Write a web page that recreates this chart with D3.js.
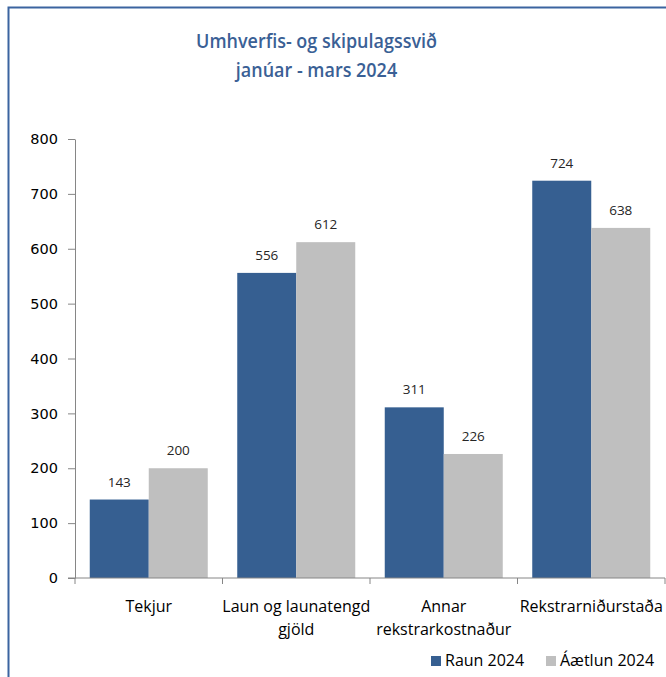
<!DOCTYPE html>
<html>
<head>
<meta charset="utf-8">
<script src="https://cdn.jsdelivr.net/npm/d3@7"></script>
<style>
  html, body { margin: 0; padding: 0; background: #fff; }
  svg { display: block; }
</style>
</head>
<body>
<svg id="chart" width="666" height="677"></svg>
<script>
// Rekstur umhverfis- og skipulagssviðs, raun vs. áætlun (m.kr.)
const categories = [
  ["Tekjur"],
  ["Laun og launatengd", "gjöld"],
  ["Annar", "rekstrarkostnaður"],
  ["Rekstrarniðurstaða"]
];
const seriesNames = ["Raun 2024", "Áætlun 2024"];
const raun2024 = [143, 556, 311, 724];
const aaetlun2024 = [200, 612, 226, 638];
const yTicks = [0, 100, 200, 300, 400, 500, 600, 700, 800];
const titleLines = ["Umhverfis- og skipulagssvið", "janúar - mars 2024"];
const colors = ["#365F91", "#BFBFBF"];

const svg = d3.select("#chart");
const W = 666, H = 677;

svg.append("rect").attr("width", W).attr("height", H).attr("fill", "#fff");

// outer frame
svg.append("rect")
  .attr("x", 8.5).attr("y", 7.5)
  .attr("width", 720).attr("height", 720)
  .attr("fill", "none")
  .attr("stroke", "#3B64A0")
  .attr("stroke-width", 2);

// title: tall, slightly condensed lettering
const titleCx = 316.5;
const titleG = svg.append("g");
const titleTexts = titleG.selectAll("text")
  .data(titleLines)
  .join("text")
  .attr("x", 0)
  .attr("y", (d, i) => 48 + i * 29.5)
  .attr("text-anchor", "middle")
  .attr("font-family", "'Open Sans', sans-serif")
  .attr("font-weight", 600)
  .attr("font-size", 20.5)
  .attr("fill", "#3A6095")
  .text(d => d);
const firstW = titleTexts.node().getComputedTextLength();
const squeeze = firstW > 0 ? 241 / firstW : 1;
titleG.attr("transform", `translate(${titleCx},0) scale(${squeeze},1)`);

const catKeys = categories.map(c => c.join(" "));
const x0 = d3.scaleBand().domain(catKeys).range([75, 665]);
const bw = x0.bandwidth();
const x1 = d3.scaleBand().domain(seriesNames).range([bw * 0.1, bw * 0.9]);
const y = d3.scaleLinear().domain([0, 800]).range([578, 139]);

const rows = catKeys.map((k, i) => ({ key: k, values: [raun2024[i], aaetlun2024[i]] }));

// bars
const groups = svg.append("g").selectAll("g")
  .data(rows)
  .join("g")
  .attr("transform", d => `translate(${x0(d.key)},0)`);

groups.selectAll("rect")
  .data(d => d.values.map((v, j) => ({ s: seriesNames[j], v, j })))
  .join("rect")
  .attr("x", d => x1(d.s))
  .attr("width", x1.bandwidth())
  .attr("y", d => y(d.v))
  .attr("height", d => y(0) - y(d.v))
  .attr("fill", d => colors[d.j]);

// value labels
groups.selectAll("text")
  .data(d => d.values.map((v, j) => ({ s: seriesNames[j], v, j })))
  .join("text")
  .attr("x", d => x1(d.s) + x1.bandwidth() / 2)
  .attr("y", d => y(d.v) - 13)
  .attr("text-anchor", "middle")
  .attr("font-family", "'Open Sans', sans-serif")
  .attr("font-size", 13.5)
  .attr("fill", "#262626")
  .text(d => d.v);

// y axis
const yAxis = svg.append("g")
  .attr("transform", "translate(75,0)")
  .call(d3.axisLeft(y).tickValues(yTicks).tickSize(7).tickPadding(10).tickSizeOuter(0));
yAxis.select(".domain").attr("stroke", "#868686");
yAxis.selectAll(".tick line").attr("stroke", "#868686");
yAxis.selectAll(".tick text")
  .attr("font-family", "'DejaVu Sans', Verdana, sans-serif")
  .attr("font-size", 14.5)
  .attr("fill", "#000");

// x axis
const xAxisG = svg.append("g").attr("transform", "translate(0,578)");
xAxisG.append("line")
  .attr("x1", 68).attr("x2", 665)
  .attr("stroke", "#868686");
const boundaries = catKeys.map(k => x0(k)).concat([x0(catKeys[catKeys.length - 1]) + bw]);
xAxisG.selectAll("line.tk")
  .data(boundaries)
  .join("line")
  .attr("class", "tk")
  .attr("x1", d => d).attr("x2", d => d)
  .attr("y1", 0).attr("y2", 6)
  .attr("stroke", "#868686");

// category labels
const catLabels = svg.append("g").selectAll("text")
  .data(categories)
  .join("text")
  .attr("x", (d, i) => x0(catKeys[i]) + bw / 2)
  .attr("y", 612)
  .attr("text-anchor", "middle")
  .attr("font-family", "'Open Sans', sans-serif")
  .attr("font-size", 16)
  .attr("fill", "#000");
catLabels.selectAll("tspan")
  .data(d => d)
  .join("tspan")
  .attr("x", function () { return d3.select(this.parentNode).attr("x"); })
  .attr("dy", (d, i) => i === 0 ? 0 : 23)
  .text(d => d);

// legend
const legend = svg.append("g").attr("transform", "translate(0,666)");
const legendX = [431, 546];
seriesNames.forEach((name, i) => {
  legend.append("rect")
    .attr("x", legendX[i]).attr("y", -10)
    .attr("width", 10).attr("height", 10)
    .attr("fill", colors[i]);
  legend.append("text")
    .attr("x", legendX[i] + 14).attr("y", 0)
    .attr("font-family", "'Open Sans', sans-serif")
    .attr("font-size", 16)
    .attr("fill", "#000")
    .text(name);
});
</script>
</body>
</html>
